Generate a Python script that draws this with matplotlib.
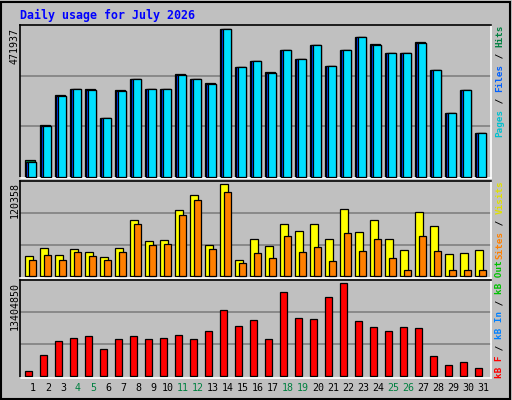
import matplotlib
matplotlib.use("Agg")
import matplotlib.pyplot as plt
import numpy as np

days = list(range(1, 32))
weekend_days = [4, 5, 11, 12, 18, 19, 25, 26]
hits = [52450,161500,256000,274800,274800,183600,271700,306300,274800,274800,322000,306300,293700,463700,344100,
        363000,329400,397600,369200,413300,347200,397600,438500,416500,388100,388100,422700,334600,199300,271700,136400]
files = [45100,158400,252800,274800,271700,183600,268500,306300,274800,274800,318900,306300,290600,463700,344100,
         363000,325200,397600,369200,413300,347200,397600,438500,413300,388100,388100,419600,334600,199300,271700,136400]
pages = [45000,158000,252500,274500,271500,183300,268200,306000,274500,274500,318600,306000,290300,463400,343800,
         362700,324900,397300,368900,413000,346900,397300,438200,413000,387800,387800,419300,334300,199000,271400,136100]
visits = [25300,35400,26600,34200,30400,24100,35400,70900,44300,45600,83600,102500,39200,116500,20300,46800,38000,
          65800,57000,65800,46800,84800,55700,70900,46800,32900,81000,63300,27900,29100,32900]
sites = [20300,26600,20300,30400,25300,20300,30400,65800,39200,40500,77200,96200,34200,106300,16500,29100,22800,
         50600,30400,36700,19000,54400,31700,46800,22800,7600,50600,31700,7600,7600,7600]
kbytes = [614000,2879000,4862000,5286000,5570000,3729000,5145000,5570000,5145000,5286000,5711000,5145000,6278000,
          9251000,6986000,7835000,5145000,11658000,8118000,7977000,11092000,12933000,7694000,6844000,6278000,
          6844000,6702000,2738000,1463000,1888000,1038000]
max_hits = 471937
max_visits = 120358
max_kb = 13404850
title = "Daily usage for July 2026"

W, H = 512, 400
BG = "#C0C0C0"
fig = plt.figure(figsize=(W/100, H/100), dpi=100, facecolor=BG)
mono = "DejaVu Sans Mono"

def ax_px(x, y, w, h):
    return fig.add_axes([x/W, 1-(y+h)/H, w/W, h/H])

x = np.array(days, dtype=float)
px = 1/15.0
xlim = (1 - 5*px, 1 + 466*px)

def style(ax, top, bottom_px, perpx):
    ax.set_facecolor(BG)
    ax.set_xlim(xlim)
    ax.set_ylim(-bottom_px*perpx, top)
    for g in (top/3, 2*top/3):
        ax.axhline(g, color="#808080", lw=1.2, zorder=0)
    ax.set_xticks([]); ax.set_yticks([])
    ax.spines["left"].set_color("black"); ax.spines["top"].set_color("black")
    ax.spines["right"].set_color("white"); ax.spines["bottom"].set_color("white")
    for s in ax.spines.values():
        s.set_linewidth(1.2)

lw = 0.9
ax1 = ax_px(20, 25, 471, 153)
p1 = 476600/151.5
style(ax1, 476600, 1.5, p1)
ax1.bar(x, hits, width=10*px, align="edge", color="#008040", edgecolor="black", lw=lw, zorder=2)
ax1.bar(x+1.3*px, files, width=9.7*px, align="edge", color="#0040FF", edgecolor="black", lw=lw, zorder=3)
ax1.bar(x+3*px, pages, width=8.3*px, align="edge", color="#00E0FF", edgecolor="black", lw=lw, zorder=4)

ax2 = ax_px(20, 181, 471, 97)
style(ax2, max_visits, 1.7, max_visits/95)
ax2.bar(x, visits, width=8*px, align="edge", color="#FFFF00", edgecolor="black", lw=lw, zorder=2)
ax2.bar(x+4*px, sites, width=7.3*px, align="edge", color="#FF8000", edgecolor="black", lw=lw, zorder=3)

ax3 = ax_px(20, 280, 471, 98)
style(ax3, max_kb, 2.3, max_kb/94.7)
ax3.bar(x, kbytes, width=7*px, align="edge", color="#FF0000", edgecolor="black", lw=lw, zorder=2)

def ftext(xp, yp, s, **kw):
    fig.text(xp/W, 1-yp/H, s, family=mono, **kw)

ftext(20, 15, title, color="#0000FF", fontsize=8.4, fontweight="bold", va="center", ha="left")

ftext(15, 28, str(max_hits), rotation=90, ha="center", va="top", fontsize=7.2)
ftext(15, 182, str(max_visits), rotation=90, ha="center", va="top", fontsize=7.2)
ftext(15, 282, str(max_kb), rotation=90, ha="center", va="top", fontsize=7.2)

for d in days:
    c = "#008040" if d in weekend_days else "black"
    ftext(25 + 15*(d-1) + 8, 388, str(d), color=c, ha="center", va="center", fontsize=7.2)

cw = 5.6
def vlegend(ybottom, parts):
    y = ybottom
    for s, c in parts:
        ftext(500, y, s, color=c, rotation=90, ha="center", va="bottom", fontsize=6.7, fontweight="bold")
        y -= cw*len(s)

vlegend(137, [("Pages", "#00C0D0"), (" / ", "black"), ("Files", "#0060FF"), (" / ", "black"), ("Hits", "#008040")])
vlegend(259, [("Sites", "#FF8000"), (" / ", "black"), ("Visits", "#E0E000")])
vlegend(378, [("kB F", "#FF0000"), (" / ", "black"), ("kB In", "#0080FF"), (" / ", "black"), ("kB Out", "#00C000")])

from matplotlib.patches import Rectangle
fig.patches.append(Rectangle((0.002, 0.003), 0.994, 0.993, transform=fig.transFigure,
                             fill=False, edgecolor="black", lw=1.5))

fig.savefig("out.png", dpi=100, facecolor=BG)
